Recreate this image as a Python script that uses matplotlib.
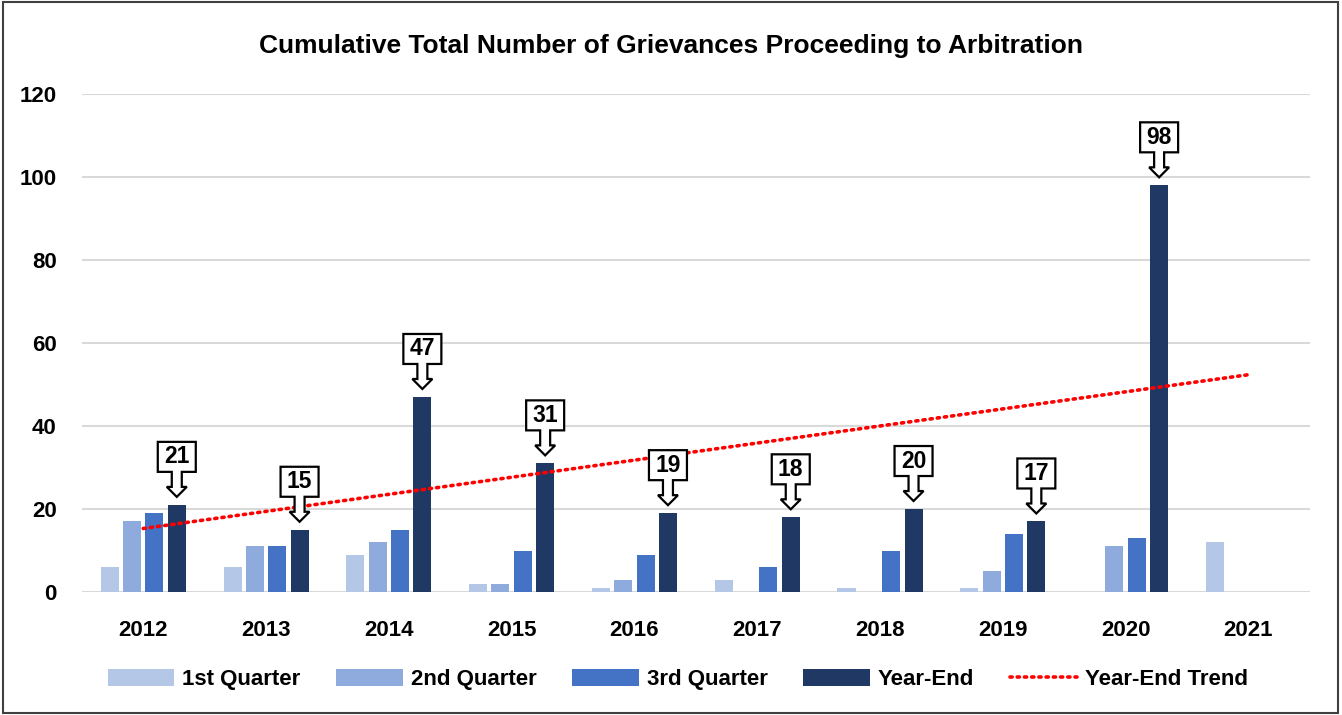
import numpy as np
import matplotlib
matplotlib.use("Agg")
import matplotlib.pyplot as plt
import matplotlib.transforms as mtransforms
from matplotlib.patches import Polygon, Rectangle

# chart data
years = ["2012", "2013", "2014", "2015", "2016", "2017", "2018", "2019", "2020", "2021"]
q1 = [6, 6, 9, 2, 1, 3, 1, 1, np.nan, 12]
q2 = [17, 11, 12, 2, 3, np.nan, np.nan, 5, 11, np.nan]
q3 = [19, 11, 15, 10, 9, 6, 10, 14, 13, np.nan]
year_end = [21, 15, 47, 31, 19, 18, 20, 17, 98, np.nan]

series_names = ["1st Quarter", "2nd Quarter", "3rd Quarter", "Year-End"]
colors = ["#B4C7E7", "#8FAADC", "#4472C4", "#203864"]

plt.rcParams["font.family"] = ["Liberation Sans", "DejaVu Sans"]
plt.rcParams["font.weight"] = "bold"

fig = plt.figure(figsize=(13.42, 7.15), dpi=100)
ax = fig.add_axes([0.061, 0.172, 0.915, 0.6965])

x = np.arange(len(years))
step = 0.182
width = 0.147
bars = []
for i, (vals, name, c) in enumerate(zip([q1, q2, q3, year_end], series_names, colors)):
    bars.append(ax.bar(x + (i - 1.5) * step, vals, width, color=c, label=name, zorder=3))

# linear trend over year-end values
ye = np.array(year_end, dtype=float)
ok = ~np.isnan(ye)
coef = np.polyfit(x[ok], ye[ok], 1)
trend_line, = ax.plot(x, np.polyval(coef, x), color="#FF0000", lw=2.6,
                      linestyle=(0, (0.6, 1.4)), dash_capstyle="round",
                      label="Year-End Trend", zorder=4)

# callout labels over year-end bars
def callout(xc, yv, label):
    trans = fig.dpi_scale_trans + mtransforms.ScaledTranslation(xc, yv, ax.transData)
    pts = np.array([
        (0, 8), (-10, 18), (-5, 18), (-5, 33), (-19, 33), (-19, 63),
        (19, 63), (19, 33), (5, 33), (5, 18), (10, 18),
    ]) / 100.0
    ax.add_patch(Polygon(pts, closed=True, facecolor="white", edgecolor="black",
                         lw=1.6, transform=trans, zorder=6, clip_on=False))
    ax.text(0, 0.48, label, transform=trans, ha="center", va="center",
            fontsize=16.5, fontweight="bold", zorder=7)

for xi, v in zip(x, year_end):
    if not np.isnan(v):
        callout(xi + 1.5 * step, v, str(int(v)))

ax.set_xlim(-0.5, len(years) - 0.5)
ax.set_ylim(0, 120)
ax.set_yticks(range(0, 121, 20))
ax.set_xticks(x)
ax.set_xticklabels(years)
ax.tick_params(axis="both", length=0, labelsize=16)
ax.tick_params(axis="y", pad=18)
ax.tick_params(axis="x", pad=20)
for lab in ax.get_xticklabels() + ax.get_yticklabels():
    lab.set_fontweight("bold")
ax.grid(axis="y", color="#D9D9D9", lw=1.5, zorder=0)
for s in ax.spines.values():
    s.set_visible(False)

fig.text(0.5, 0.936, "Cumulative Total Number of Grievances Proceeding to Arbitration",
         ha="center", va="center", fontsize=19, fontweight="bold")

handles = bars + [trend_line]
labels = series_names + ["Year-End Trend"]
leg = fig.legend(handles, labels, loc="center", bbox_to_anchor=(0.505, 0.05), ncol=5,
                 frameon=False, fontsize=16, handlelength=3.0, handleheight=0.8,
                 handletextpad=0.36, columnspacing=1.6)

fig.patches.append(Rectangle((0.002, 0.003), 0.995, 0.994, transform=fig.transFigure,
                             fill=False, edgecolor="#404040", lw=1.5))

fig.savefig("out.png", dpi=100)
